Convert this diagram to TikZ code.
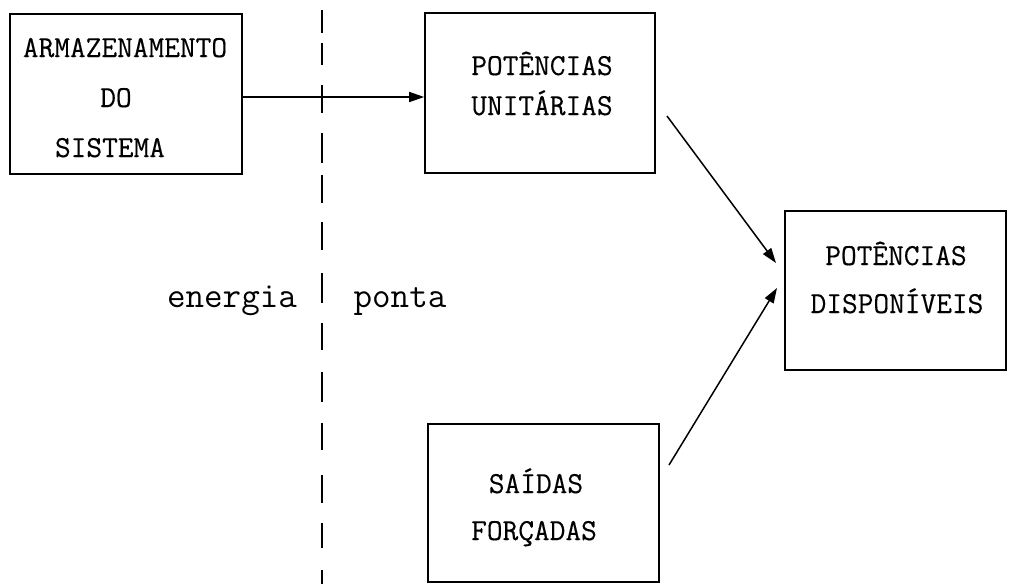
\documentclass[tikz,border=0pt]{standalone}
\usepackage{fontspec}
\usetikzlibrary{arrows.meta}
\newfontfamily\boxfont[FakeBold=0.35]{Latin Modern Mono}
\newfontfamily\typefont{Latin Modern Mono}
\begin{document}
\begin{tikzpicture}[x=1pt,y=-1pt,
  blockbox/.style={draw,line width=1.6pt,inner sep=0pt},
  blocktext/.style={font=\boxfont\fontsize{30.5}{34}\selectfont,anchor=base,inner sep=0pt},
  sidetext/.style={font=\typefont\fontsize{36}{40}\selectfont,anchor=base,inner sep=0pt},
  flow/.style={line width=1.5pt,-{Triangle[length=15pt,width=10pt]}},
  divider/.style={line width=1.8pt}]
\useasboundingbox (0,0) rectangle (1010,584);

% blocks
\node[blockbox,minimum width=232pt,minimum height=160pt] (arm) at (126,94) {};
\node[blockbox,minimum width=230pt,minimum height=160pt] (unit) at (540,93) {};
\node[blockbox,minimum width=221pt,minimum height=159pt] (disp) at (895.5,290.5) {};
\node[blockbox,minimum width=231pt,minimum height=158pt] (forc) at (543.5,503) {};

% block labels
\node[blocktext] (t1) at (125,57) {ARMAZENAMENTO};
\node[blocktext] (t2) at (116,107) {DO};
\node[blocktext] (t3) at (110,157) {SISTEMA};
\node[blocktext] (t4) at (542,75) {POTÊNCIAS};
\node[blocktext] (t5) at (542,115) {UNITÁRIAS};
\node[blocktext] (t6) at (896,265) {POTÊNCIAS};
\node[blocktext] (t7) at (897,313) {DISPONÍVEIS};
\node[blocktext] (t8) at (536,493) {SAÍDAS};
\node[blocktext] (t9) at (534,540) {FORÇADAS};

% side labels of the divider
\node[sidetext] (en) at (232,307) {energia};
\node[sidetext] (po) at (400,307) {ponta};

% hand-drawn dashed divider
\foreach \a/\b in {10/33,43/65,85/113,133/163,175/203,222/250,273/303,
                   323/350,372/402,423/450,475/503,523/548,570/584}
  \draw[divider] (322,\a) -- (322,\b);

% connectors
\coordinate (u1) at (667,116);
\coordinate (d1) at (776,263);
\coordinate (f1) at (669,465);
\coordinate (d2) at (777,288);
\draw[flow] ([yshift=-3pt]arm.east) -- ([yshift=-4pt]unit.west);
\draw[flow] (u1) -- (d1);
\draw[flow] (f1) -- (d2);
\end{tikzpicture}
\end{document}
